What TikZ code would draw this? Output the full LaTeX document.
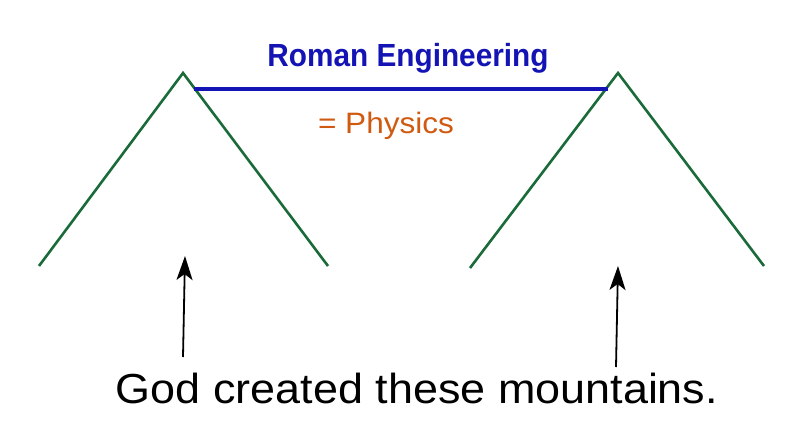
\documentclass[tikz,border=0pt]{standalone}
\usepackage{fontspec}
\usepackage{graphicx}
\setmainfont{Liberation Sans}
\usetikzlibrary{arrows.meta}
\definecolor{mtgreen}{HTML}{1B6B3A}
\definecolor{rblue}{HTML}{1414B4}
\definecolor{phorange}{HTML}{D05A10}
\tikzset{
  mountain/.style={draw=mtgreen, line width=2.6pt},
  bridge/.style={draw=rblue, line width=3.6pt},
  pointer/.style={draw=black, line width=1.8pt, -{Stealth[length=24pt,width=16pt,inset=6pt]}},
}
\begin{document}
\begin{tikzpicture}[x=1pt,y=-1pt]
\useasboundingbox (0,0) rectangle (800,430);
% left mountain
\coordinate (l1) at (39,266);
\coordinate (lp) at (183,73);
\coordinate (l2) at (328,266);
% right mountain
\coordinate (r1) at (470,268);
\coordinate (rp) at (618,73);
\coordinate (r2) at (764,266);
\draw[mountain] (l1) -- (lp) -- (l2);
\draw[mountain] (r1) -- (rp) -- (r2);
% bridge
\coordinate (b1) at (194,89);
\coordinate (b2) at (608,89);
\draw[bridge] (b1) -- (b2);
% texts
\node[anchor=base, text=rblue, inner sep=0pt, font=\fontsize{32}{35}\selectfont\bfseries] (title) at (408,67) {\scalebox{0.93}[1]{Roman Engineering}};
\node[anchor=base, text=phorange, inner sep=0pt, font=\fontsize{29.5}{32}\selectfont] (phys) at (386,134) {\scalebox{1.07}[1]{= Physics}};
\node[anchor=base, inner sep=0pt, font=\fontsize{42}{46}\selectfont] (god) at (417,403) {\scalebox{1.07}[1]{God created these mountains.}};
% arrows
\coordinate (a1s) at (183,357);
\coordinate (a1e) at (185,256);
\coordinate (a2s) at (616,367);
\coordinate (a2e) at (618,266);
\draw[pointer] (a1s) -- (a1e);
\draw[pointer] (a2s) -- (a2e);
\end{tikzpicture}
\end{document}
